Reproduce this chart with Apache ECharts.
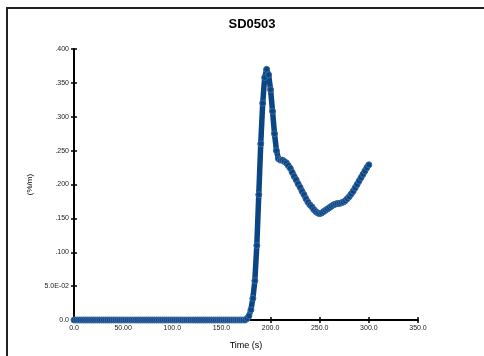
<!DOCTYPE html>
<html><head><meta charset="utf-8">
<script src="https://cdn.jsdelivr.net/npm/echarts@6/dist/echarts.min.js"></script>
<style>html,body{margin:0;padding:0;background:#fff}#c{width:484px;height:356px}</style>
</head><body><div id="c"></div>
<script>
const title = 'SD0503';
const xName = 'Time (s)';
const yName = '(%/m)';
const xTickValues = [0, 50, 100, 150, 200, 250, 300, 350];
const xTickLabels = ['0.0', '50.00', '100.0', '150.0', '200.0', '250.0', '300.0', '350.0'];
const yTickValues = [0, 0.05, 0.1, 0.15, 0.2, 0.25, 0.3, 0.35, 0.4];
const yTickLabels = ['0.0', '5.0E-02', '.100', '.150', '.200', '.250', '.300', '.350', '.400'];
const time = [0,2,4,6,8,10,12,14,16,18,20,22,24,26,28,30,32,34,36,38,40,42,44,46,48,50,52,54,56,58,60,62,64,66,68,70,72,74,76,78,80,82,84,86,88,90,92,94,96,98,100,102,104,106,108,110,112,114,116,118,120,122,124,126,128,130,132,134,136,138,140,142,144,146,148,150,152,154,156,158,160,162,164,166,168,170,172,174,176,178,180,182,184,186,188,190,192,194,196,198,200,202,204,206,208,210,212,214,216,218,220,222,224,226,228,230,232,234,236,238,240,242,244,246,248,250,252,254,256,258,260,262,264,266,268,270,272,274,276,278,280,282,284,286,288,290,292,294,296,298,300];
const strain = [0,0,0,0,0,0,0,0,0,0,0,0,0,0,0,0,0,0,0,0,0,0,0,0,0,0,0,0,0,0,0,0,0,0,0,0,0,0,0,0,0,0,0,0,0,0,0,0,0,0,0,0,0,0,0,0,0,0,0,0,0,0,0,0,0,0,0,0,0,0,0,0,0,0,0,0,0,0,0,0,0,0,0,0,0,0,0,0,
0.002,0.006,0.015,0.032,0.058,0.11,0.185,0.26,0.32,0.358,0.370,0.362,0.34,0.308,0.275,0.25,0.238,0.236,0.236,0.234,0.232,0.228,0.224,0.218,0.212,0.207,0.201,0.196,0.19,0.185,0.179,0.174,0.170,0.167,0.163,0.160,0.158,0.157,0.158,0.160,0.162,0.164,0.166,0.168,0.170,0.171,0.172,0.172,0.173,0.174,0.176,0.179,0.182,0.186,0.19,0.195,0.2,0.205,0.21,0.215,0.22,0.225,0.229];

const data = time.map((t, i) => [t, strain[i]]);
const xFmt = v => { const i = xTickValues.indexOf(v); return i >= 0 ? xTickLabels[i] : ''; };
const yFmt = v => { const i = yTickValues.findIndex(y => Math.abs(y - v) < 1e-9); return i >= 0 ? yTickLabels[i] : ''; };
const axisLine = {show: true, lineStyle: {color: '#000', width: 2}};
const lbl = {fontFamily: 'Liberation Sans, Arial', fontSize: 7, color: '#222'};

const chart = echarts.init(document.getElementById('c'));
chart.setOption({
  animation: false,
  backgroundColor: '#fff',
  title: {text: title, left: 247, textAlign: 'center', top: 13,
    textStyle: {fontFamily: 'Liberation Sans, Arial', fontWeight: 'bold', fontSize: 13, color: '#000'}},
  graphic: [
    {type: 'polyline', shape: {points: [[7, 356], [7, 8], [484, 8]]}, style: {stroke: '#222', lineWidth: 2, fill: null}, silent: true}
  ],
  grid: {left: 74, right: 66, top: 49, bottom: 36},
  xAxis: [
    {type: 'value', min: 0, max: 350, interval: 50, name: xName, nameLocation: 'middle', nameGap: 21,
      nameTextStyle: {fontFamily: 'Liberation Sans, Arial', fontSize: 9, color: '#000'},
      axisLine: axisLine, axisTick: {show: true, length: 3, lineStyle: {color: '#000', width: 1.5}},
      axisLabel: Object.assign({formatter: xFmt, margin: 5}, lbl), splitLine: {show: false}},
    {type: 'value', min: 0, max: 350, interval: 50, position: 'bottom', axisLine: {show: false},
      axisTick: {show: true, inside: true, length: 3, lineStyle: {color: '#000', width: 1.5}},
      axisLabel: {show: false}, splitLine: {show: false}}
  ],
  yAxis: [
    {type: 'value', min: 0, max: 0.4, interval: 0.05, name: yName, nameLocation: 'middle', nameGap: 40, nameRotate: 90,
      nameTextStyle: {fontFamily: 'Liberation Sans, Arial', fontSize: 8, color: '#000'},
      axisLine: axisLine, axisTick: {show: true, length: 3, lineStyle: {color: '#000', width: 1.5}},
      axisLabel: Object.assign({formatter: yFmt, margin: 5}, lbl), splitLine: {show: false}},
    {type: 'value', min: 0, max: 0.4, interval: 0.05, position: 'left', axisLine: {show: false},
      axisTick: {show: true, inside: true, length: 3, lineStyle: {color: '#000', width: 1.5}},
      axisLabel: {show: false}, splitLine: {show: false}}
  ],
  series: [{
    type: 'line', data: data, xAxisIndex: 0, yAxisIndex: 0,
    symbol: 'circle', symbolSize: 6, showAllSymbol: true,
    lineStyle: {color: '#0b4583', width: 5.5},
    itemStyle: {color: '#0b4583', borderColor: '#3a6ba3', borderWidth: 1},
    z: 5
  }]
});
</script></body></html>
